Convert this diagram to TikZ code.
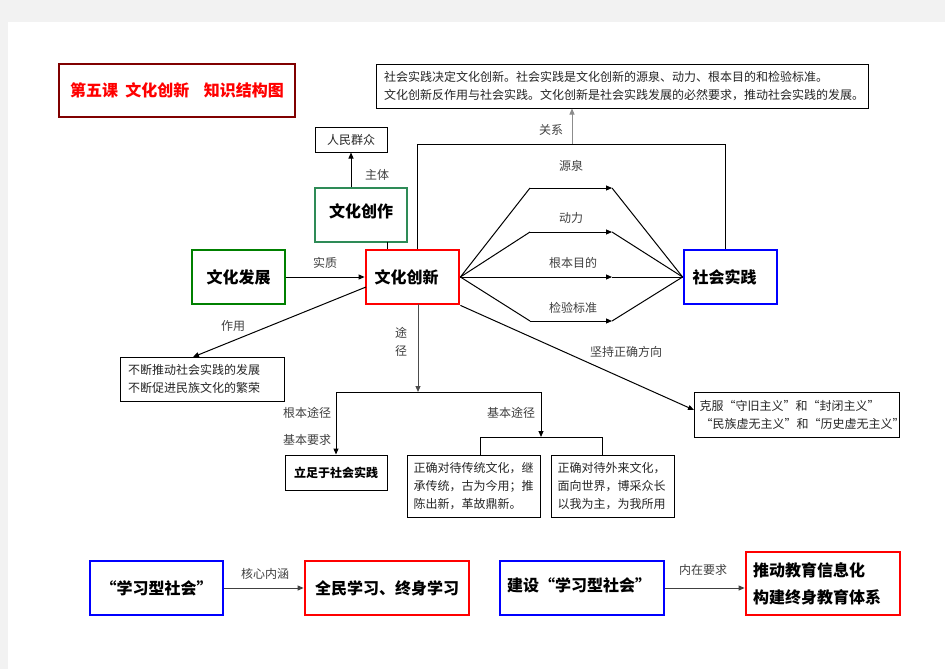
\documentclass[tikz,border=0pt]{standalone}
\usepackage{fontspec}
\setmainfont{Noto Sans CJK SC}
\usetikzlibrary{arrows.meta}
\definecolor{dred}{HTML}{800000}
\definecolor{tgreen}{HTML}{2E8B57}
\definecolor{gcol}{HTML}{008000}
\begin{document}
\begin{tikzpicture}[x=1pt,y=-1pt,
  box/.style={draw=black,line width=1pt,inner sep=0pt,font=\fontsize{12}{18}\selectfont,text=black!85},
  bigbox/.style={line width=2.8pt,inner sep=0pt,font=\fontsize{16}{24}\selectfont\bfseries},
  lbl/.style={font=\fontsize{12}{14}\selectfont,text=black!75,inner sep=1pt},
  ln/.style={line width=1pt},
  arr/.style={line width=1pt,-{Triangle[length=6pt,width=5pt]}}]
\useasboundingbox (0,0) rectangle (945,669);
\fill[black!5] (0,0) rectangle (945,669);
\fill[white] (8,22) rectangle (945,669);

% title
\node[bigbox,draw=dred,text=red,minimum width=236pt,minimum height=53pt] (title) at (177,90.5) {第五课\ \ 文化创新\ \ \ \ 知识结构图};

% top text box
\node[box,minimum width=492pt,minimum height=43pt,text width=476pt,align=left] (top) at (622,86.5)
  {社会实践决定文化创新。社会实践是文化创新的源泉、动力、根本目的和检验标准。\\文化创新反作用与社会实践。文化创新是社会实践发展的必然要求，推动社会实践的发展。};

% main boxes
\node[box,minimum width=72pt,minimum height=25pt] (rmqz) at (351,139.5) {人民群众};
\node[bigbox,draw=tgreen,line width=1.3pt,minimum width=92pt,minimum height=54pt,text depth=8pt] (whcz) at (361,215) {文化创作};
\node[bigbox,draw=gcol,minimum width=93pt,minimum height=54pt] (whfz) at (238.5,277) {文化发展};
\node[bigbox,draw=red,minimum width=93pt,minimum height=54pt,text width=76pt,align=left] (whcx) at (412.5,277) {文化创新};
\node[bigbox,draw=blue,minimum width=93pt,minimum height=54pt,text width=76pt,align=left] (shsj) at (730.5,277) {社会实践};

\node[box,minimum width=164pt,minimum height=44pt,text width=148pt,align=left] (bdtd) at (202,379)
  {不断推动社会实践的发展\\不断促进民族文化的繁荣};
\node[box,minimum width=205pt,minimum height=45pt,text width=198pt,align=left] (kf) at (796.5,414.5)
  {\hspace*{2pt}克服“守旧主义”和“封闭主义”\\\hspace*{3pt}“民族虚无主义”和“历史虚无主义”};
\node[box,minimum width=102pt,minimum height=35pt,font=\fontsize{12}{18}\selectfont\bfseries,text=black] (lz) at (336,472.5) {立足于社会实践};
\node[box,minimum width=133pt,minimum height=62pt,text width=120pt,align=left] (ct) at (473.5,486)
  {正确对待传统文化，继\\承传统，古为今用；推\\陈出新，革故鼎新。};
\node[box,minimum width=123pt,minimum height=62pt,text width=110pt,align=left] (wl) at (612.5,486)
  {正确对待外来文化，\\面向世界，博采众长\\以我为主，为我所用};

% bottom boxes
\node[bigbox,draw=blue,minimum width=133pt,minimum height=54pt] (xxx) at (156.5,588) {“学习型社会”};
\node[bigbox,draw=red,minimum width=164pt,minimum height=54pt] (qm) at (387,588) {全民学习、终身学习};
\node[bigbox,draw=blue,minimum width=164pt,minimum height=54pt,text width=150pt,align=left,text depth=6pt] (js) at (582,588) {建设“学习型社会”};
\node[bigbox,draw=red,minimum width=154pt,minimum height=63pt,text width=140pt,align=left,font=\fontsize{16}{27}\selectfont\bfseries] (td) at (823,583.5) {推动教育信息化\\构建终身教育体系};

% coordinates
\coordinate (rel) at (572,144);
\coordinate (r1) at (417,144);
\coordinate (r2) at (725,144);
\coordinate (a1) at (530,188); \coordinate (b1) at (612,188);
\coordinate (a2) at (530,232); \coordinate (b2) at (612,232);
\coordinate (b3) at (612,277);
\coordinate (a4) at (530,321); \coordinate (b4) at (612,321);
\coordinate (zy1) at (366,287); \coordinate (zy2) at (193,357);
\coordinate (tj0) at (418,304); \coordinate (tj) at (418,392);
\coordinate (h1) at (336,392); \coordinate (h2) at (541,392);
\coordinate (h3) at (541,437);
\coordinate (g1) at (480,437); \coordinate (g2) at (602,437);
\coordinate (cz) at (387,242);
\coordinate (kfin) at (694,410);

% connectors
\draw[arr,draw=black!45] (rel) -- (rel |- top.south);
\draw[ln] (r1 |- whcx.north) -- (r1) -- (r2) -- (r2 |- shsj.north);
\draw[arr] (whcz.north -| rmqz.south) -- (rmqz.south);
\draw[ln] (cz) -- (cz |- whcx.north);
\draw[arr] (whfz.east) -- (whcx.west);

\draw[ln] (whcx.east) -- (a1); \draw[arr] (a1) -- (b1); \draw[ln] (b1) -- (shsj.west);
\draw[ln] (whcx.east) -- (a2); \draw[arr] (a2) -- (b2); \draw[ln] (b2) -- (shsj.west);
\draw[arr] (whcx.east) -- (b3); \draw[ln] (b3) -- (shsj.west);
\draw[ln] (whcx.east) -- (a4); \draw[arr] (a4) -- (b4); \draw[ln] (b4) -- (shsj.west);

\draw[arr] (zy1) -- (zy2);
\draw[arr] (whcx.south east) -- (kfin);
\draw[arr,draw=black!70] (tj0) -- (tj);
\draw[ln] (h1) -- (h2);
\draw[arr] (h1) -- (lz.north);
\draw[arr] (h2) -- (h3);
\draw[ln] (g1) -- (g2);
\draw[ln] (g1) -- (g1 |- ct.north);
\draw[ln] (g2) -- (g2 |- wl.north);
\draw[arr,draw=black!75] (xxx.east) -- (qm.west);
\draw[arr,draw=black!75] (js.east) -- (js.east -| td.west);

% labels
\node[lbl] (lgx) at (551,130) {关系};
\node[lbl] (lzt) at (377,175) {主体};
\node[lbl] (lsz) at (325,263) {实质};
\node[lbl] (lyq) at (571,166) {源泉};
\node[lbl] (ldl) at (571,218) {动力};
\node[lbl] (lgb) at (573,263) {根本目的};
\node[lbl] (ljy) at (573,308) {检验标准};
\node[lbl] (lzy) at (233,326) {作用};
\node[lbl] (ljc) at (626,352) {坚持正确方向};
\node[lbl,align=center,font=\fontsize{12}{18}\selectfont] (ltj) at (401,342) {途\\径};
\node[lbl] (lgbtj) at (307,413) {根本途径};
\node[lbl] (ljbyq) at (307,440) {基本要求};
\node[lbl] (ljbtj) at (511,413) {基本途径};
\node[lbl] (lhx) at (265,574) {核心内涵};
\node[lbl] (lnz) at (703,570) {内在要求};
\end{tikzpicture}
\end{document}
